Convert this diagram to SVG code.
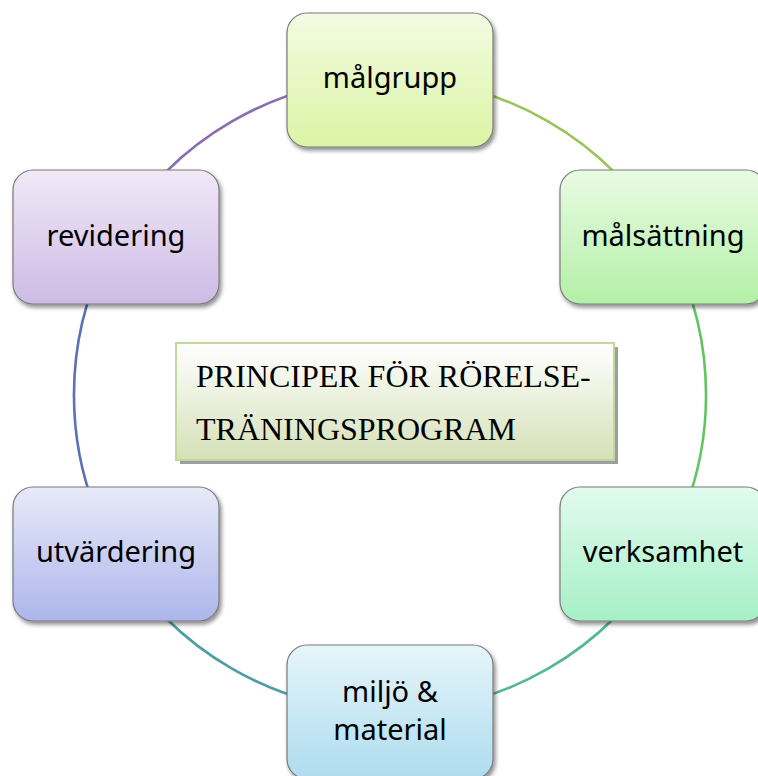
<svg xmlns="http://www.w3.org/2000/svg" width="758" height="776" viewBox="0 0 758 776">
<defs>
<linearGradient id="g1" x1="0" y1="0" x2="0" y2="1"><stop offset="0" stop-color="#f3fbe2"/><stop offset="1" stop-color="#dbf4a4"/></linearGradient>
<linearGradient id="g2" x1="0" y1="0" x2="0" y2="1"><stop offset="0" stop-color="#e9fbe3"/><stop offset="1" stop-color="#b3f0a6"/></linearGradient>
<linearGradient id="g3" x1="0" y1="0" x2="0" y2="1"><stop offset="0" stop-color="#e2fbee"/><stop offset="1" stop-color="#a6f0c6"/></linearGradient>
<linearGradient id="g4" x1="0" y1="0" x2="0" y2="1"><stop offset="0" stop-color="#e6f5fb"/><stop offset="1" stop-color="#aedcee"/></linearGradient>
<linearGradient id="g5" x1="0" y1="0" x2="0" y2="1"><stop offset="0" stop-color="#e8eaf9"/><stop offset="1" stop-color="#adb6eb"/></linearGradient>
<linearGradient id="g6" x1="0" y1="0" x2="0" y2="1"><stop offset="0" stop-color="#f1e8f7"/><stop offset="1" stop-color="#cdbbe6"/></linearGradient>
<linearGradient id="gc" x1="0" y1="0" x2="0" y2="1"><stop offset="0" stop-color="#ffffff"/><stop offset="1" stop-color="#d5e1b8"/></linearGradient>
<filter id="sh" x="-10%" y="-10%" width="125%" height="125%"><feGaussianBlur in="SourceAlpha" stdDeviation="2"/><feOffset dx="2" dy="3" result="b"/><feComponentTransfer><feFuncA type="linear" slope="0.45"/></feComponentTransfer><feMerge><feMergeNode/><feMergeNode in="SourceGraphic"/></feMerge></filter>
</defs>
<style>
.box{stroke:#7a7a7a;stroke-width:1.2;filter:url(#sh)}
.lbl{font-family:"Noto Sans","Open Sans",sans-serif;font-size:29px;fill:#000;text-anchor:middle}
.arc{fill:none;stroke-width:2.6}
.ct{font-family:"Liberation Serif","Times New Roman",serif;font-size:32px;fill:#000}
</style>
<g id="connectors">
<path class="arc" stroke="#9bc35a" d="M390 79 A316 316 0 0 1 663.7 237"/>
<path class="arc" stroke="#62c562" d="M663.7 237 A316 316 0 0 1 663.7 553"/>
<path class="arc" stroke="#52b98e" d="M663.7 553 A316 316 0 0 1 390 711"/>
<path class="arc" stroke="#4e9ea6" d="M390 711 A316 316 0 0 1 116.3 553"/>
<path class="arc" stroke="#5a70b8" d="M116.3 553 A316 316 0 0 1 116.3 237"/>
<path class="arc" stroke="#8a6cb0" d="M116.3 237 A316 316 0 0 1 390 79"/>
</g>
<g id="center">
<rect x="180" y="347" width="438" height="117" fill="#9e9e9e"/>
<rect x="176" y="343" width="438" height="117" fill="url(#gc)" stroke="#c3d69b" stroke-width="2"/>
<text class="ct" x="196" y="387">PRINCIPER FÖR RÖRELSE-</text>
<text class="ct" x="196" y="440">TRÄNINGSPROGRAM</text>
</g>
<g id="malgrupp">
<rect class="box" x="287" y="13" width="206" height="134" rx="20" fill="url(#g1)"/>
<text class="lbl" x="390" y="88">målgrupp</text>
</g>
<g id="malsattning">
<rect class="box" x="560" y="170" width="206" height="134" rx="20" fill="url(#g2)"/>
<text class="lbl" x="663" y="246">målsättning</text>
</g>
<g id="verksamhet">
<rect class="box" x="560" y="487" width="206" height="134" rx="20" fill="url(#g3)"/>
<text class="lbl" x="663" y="562">verksamhet</text>
</g>
<g id="miljo">
<rect class="box" x="287" y="645" width="206" height="134" rx="20" fill="url(#g4)"/>
<text class="lbl" x="390" y="702">miljö &amp;</text>
<text class="lbl" x="390" y="740">material</text>
</g>
<g id="utvardering">
<rect class="box" x="13" y="487" width="206" height="134" rx="20" fill="url(#g5)"/>
<text class="lbl" x="116" y="562">utvärdering</text>
</g>
<g id="revidering">
<rect class="box" x="13" y="170" width="206" height="134" rx="20" fill="url(#g6)"/>
<text class="lbl" x="116" y="246">revidering</text>
</g>
</svg>
